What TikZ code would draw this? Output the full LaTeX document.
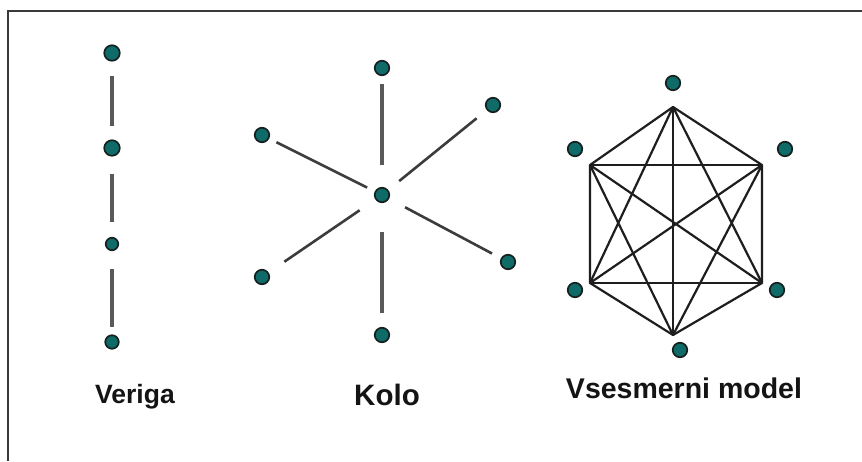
\documentclass[tikz,border=0pt]{standalone}
\usepackage{fontspec}
\setmainfont{Liberation Sans}
\definecolor{dotfill}{HTML}{0E6B67}
\definecolor{dotrim}{HTML}{152020}
\definecolor{spoke}{HTML}{3C3C3C}
\definecolor{mesh}{HTML}{1E1E1E}
\definecolor{frameline}{HTML}{3A3A3A}
\tikzset{
  dot/.style={circle,fill=dotfill,draw=dotrim,line width=1.7pt,inner sep=0pt,minimum size=#1},
  dot/.default=14.5pt,
  link/.style={draw=spoke!85!white,line width=3.2pt},
  ray/.style={draw=spoke,line width=2.6pt},
  mesh/.style={draw=mesh,line width=2.2pt,line join=round},
  caption/.style={anchor=base,text=black!92,inner sep=0pt}
}
\begin{document}
\begin{tikzpicture}[x=1pt,y=-1pt]
\useasboundingbox (0,0) rectangle (862,461);
\fill[white] (0,0) rectangle (862,461);
% open frame: top and left edges only
\draw[frameline,line width=1.5pt] (8,461) -- (8,11) -- (862,11);

% chain
\node[dot=15.5pt] (c1) at (112,53) {};
\node[dot=15.5pt] (c2) at (112,148) {};
\node[dot=12.5pt] (c3) at (112,244) {};
\node[dot=13.5pt] (c4) at (112,342) {};
\draw[link,shorten <=14pt,shorten >=13pt] (c1) -- (c2);
\draw[link,shorten <=17pt,shorten >=15pt] (c2) -- (c3);
\draw[link,shorten <=18pt,shorten >=7pt] (c3) -- (c4);

% star
\node[dot] (s0) at (382,195) {};
\node[dot] (sT) at (382,68) {};
\node[dot] (sB) at (382,335) {};
\node[dot] (sUL) at (262,135) {};
\node[dot] (sLL) at (262,277) {};
\node[dot] (sUR) at (493,105) {};
\node[dot] (sLR) at (508,262) {};
\draw[link,shorten <=8pt,shorten >=22pt] (sT) -- (s0);
\draw[link,shorten <=29pt,shorten >=14pt] (s0) -- (sB);
\draw[ray,shorten <=8pt,shorten >=8.5pt] (sUL) -- (s0);
\draw[ray,shorten <=13pt,shorten >=14pt] (sUR) -- (s0);
\draw[ray,shorten <=19pt,shorten >=19pt] (s0) -- (sLL);
\draw[ray,shorten <=18pt,shorten >=10pt] (s0) -- (sLR);

% complete graph on six points
\coordinate (hT) at (673,107);
\coordinate (hUL) at (590,165);
\coordinate (hUR) at (762,165);
\coordinate (hLL) at (590,283);
\coordinate (hLR) at (762,283);
\coordinate (hB) at (673,335);
\draw[mesh] (hT) -- (hUR) -- (hLR) -- (hB) -- (hLL) -- (hUL) -- cycle;
\draw[mesh] (hUL) -- (hUR) (hLL) -- (hLR) (hT) -- (hB);
\draw[mesh] (hT) -- (hLL) (hT) -- (hLR) (hB) -- (hUL) (hB) -- (hUR);
\draw[mesh] (hUL) -- (hLR) (hUR) -- (hLL);
\node[dot] (kT) at (673,83) {};
\node[dot] (kUL) at (575,149) {};
\node[dot] (kUR) at (785,149) {};
\node[dot] (kLL) at (575,290) {};
\node[dot] (kLR) at (777,290) {};
\node[dot] (kB) at (680,350) {};

% captions
\node[caption,font=\bfseries\fontsize{26.5}{30}\selectfont] (l1) at (135,403) {Veriga};
\node[caption,font=\bfseries\fontsize{29.5}{33}\selectfont] (l2) at (387,405) {Kolo};
\node[caption,font=\bfseries\fontsize{28.5}{32}\selectfont] (l3) at (684,398) {Vsesmerni model};
\end{tikzpicture}
\end{document}
